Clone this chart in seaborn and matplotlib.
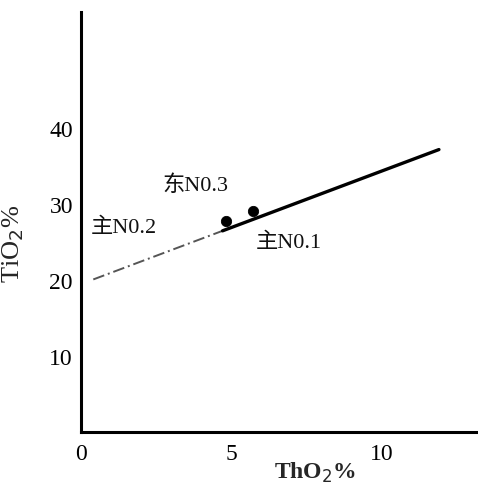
"""TiO2 vs ThO2 scatter with fitted trend line (scanned figure recreation)."""

import matplotlib

matplotlib.use("Agg")

import matplotlib.pyplot as plt
import pandas as pd
import seaborn as sns

# Sample points (ThO2 %, TiO2 %)
sample_x = [4.8, 5.7]
sample_y = [27.8, 29.1]

# Trend line: faint extrapolated part, then the solid fitted part
faint_x = [0.4, 4.7]
faint_y = [20.1, 26.5]
solid_x = [4.7, 11.9]
solid_y = [26.5, 37.2]

# Sample labels and their anchor positions in data units
labels = ["东N0.3", "主N0.2", "主N0.1"]
label_x = [2.7, 0.3, 5.8]
label_y = [32.6, 27.0, 25.0]

x_ticks = [0, 5, 10]
y_ticks = [10, 20, 30, 40]

sns.set_theme(style="white")
plt.rcParams["font.family"] = ["Liberation Serif", "Noto Sans CJK SC", "DejaVu Sans"]

fig = plt.figure(figsize=(4.78, 4.85), dpi=100)
ax = fig.add_axes([0.17, 0.107, 0.83, 0.866])

sns.lineplot(x=faint_x, y=faint_y, ax=ax, color="#555555", linewidth=1.4,
             linestyle=(0, (6, 2, 1, 2)))
sns.lineplot(x=solid_x, y=solid_y, ax=ax, color="black", linewidth=2.4)
points = pd.DataFrame({"x": sample_x, "y": sample_y})
sns.scatterplot(data=points, x="x", y="y", ax=ax, color="black", s=55,
                edgecolor="black", zorder=3)

for text, tx, ty in zip(labels, label_x, label_y):
    ax.text(tx, ty, text, fontsize=16, va="center", ha="left", color="#111111")

ax.set_xlim(0, 13.2)
ax.set_ylim(0, 55.3)
ax.set_xticks(x_ticks)
ax.set_yticks(y_ticks)
ax.tick_params(axis="both", direction="in", length=7, width=2, labelsize=17,
               colors="black", pad=6)
ax.tick_params(axis="x", pad=8)

ax.set_xlabel("ThO$_2$%", fontsize=17, fontweight="bold")
ax.xaxis.set_label_coords(0.59, -0.065)
ax.set_ylabel("TiO$_2$%", fontsize=19)
ax.yaxis.set_label_coords(-0.14, 0.45)

sns.despine(ax=ax)
for side in ("left", "bottom"):
    ax.spines[side].set_linewidth(2.2)
    ax.spines[side].set_color("black")

fig.savefig("out.png", dpi=100)
